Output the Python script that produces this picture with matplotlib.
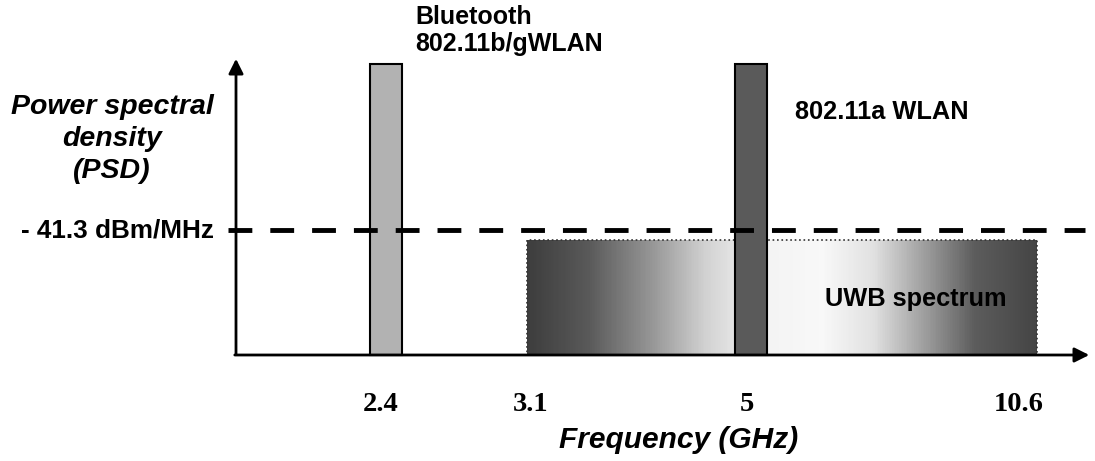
import numpy as np
import matplotlib
matplotlib.use('Agg')
import matplotlib.pyplot as plt
from matplotlib.patches import Rectangle

W, H = 1095, 461

# --- data (schematic PSD levels, 1.0 = narrowband peak) ---
tick_freqs = [2.4, 3.1, 5.0, 10.6]
tick_labels = ['2.4', '3.1', '5', '10.6']
narrow_names = ['Bluetooth\n802.11b/gWLAN', '802.11a WLAN']
narrow_freqs = [2.4, 5.0]
narrow_psd = [1.0, 1.0]
narrow_colors = ['#b2b2b2', '#5a5a5a']
uwb_band = [3.1, 10.6]
uwb_psd = 0.395
limit_psd = 0.43
limit_label = '- 41.3 dBm/MHz'

# the frequency axis of the sketch is not linear: piecewise scale GHz -> pixel
knot_f = [0.0, 2.4, 3.1, 5.0, 10.6, 16.0]
knot_p = [-96, 386, 527, 751, 1037, 1307]


def fwd(f):
    return np.interp(f, knot_f, knot_p)


def inv(p):
    return np.interp(p, knot_p, knot_f)


fig = plt.figure(figsize=(W / 100, H / 100), dpi=100)
ax = fig.add_axes([0, 0, 1, 1])
ax.set_xscale('function', functions=(fwd, inv))
ax.set_xlim(inv(0), inv(W))
px_per_unit = 291.0
ax.set_ylim(-(H - 355) / px_per_unit, 355 / px_per_unit)
ax.axis('off')

sans = 'Liberation Sans'

# UWB band with grey gradient
xe = inv(np.linspace(fwd(uwb_band[0]), fwd(uwb_band[1]), 300))
t = np.linspace(0, 1, len(xe) - 1)
ramp_t = [0, 0.12, 0.25, 0.35, 0.45, 0.58, 0.68, 0.78, 0.88, 1.0]
ramp_v = [0.24, 0.35, 0.6, 0.82, 0.95, 0.97, 0.88, 0.62, 0.36, 0.27]
shade = np.interp(t, ramp_t, ramp_v)[None, :]
ax.pcolormesh(xe, [0, uwb_psd], shade, cmap='gray', vmin=0, vmax=1, zorder=1)
ax.add_patch(Rectangle((uwb_band[0], 0), uwb_band[1] - uwb_band[0], uwb_psd,
                       fill=False, ec='#333333', lw=1.2, ls=':', zorder=1.5))

# narrowband systems
for f, h, c in zip(narrow_freqs, narrow_psd, narrow_colors):
    left = inv(fwd(f) - 16)
    right = inv(fwd(f) + 16)
    ax.bar(left, h, width=right - left, align='edge', color=c,
           edgecolor='black', lw=1.5, zorder=2)

# FCC limit
ax.axhline(limit_psd, xmin=228 / W, xmax=1085 / W, color='black', lw=3.5,
           ls=(0, (4.9, 3.7)), zorder=3)

# axes arrows
ax.annotate('', xy=(236 / W, 1 - 56 / H), xytext=(236 / W, 1 - 357 / H),
            xycoords='axes fraction',
            arrowprops=dict(arrowstyle='-|>', color='black', lw=2,
                            mutation_scale=22), zorder=4)
ax.annotate('', xy=(1092 / W, 1 - 355 / H), xytext=(232 / W, 1 - 355 / H),
            xycoords='axes fraction',
            arrowprops=dict(arrowstyle='-|>', color='black', lw=2,
                            mutation_scale=22), zorder=4)

# tick labels (hand-drawn figure: labels sit a little off the marks)
label_shift = [-5, 4, -4, -18]
for f, lab, dx in zip(tick_freqs, tick_labels, label_shift):
    ax.annotate(lab, xy=(f, -49 / px_per_unit), xytext=(dx * 0.72, 0),
                textcoords='offset points', ha='center', va='center',
                family='Liberation Serif', fontweight='bold', fontsize=20.5)

# annotations
ax.text(415 / W, 1 - 5 / H, narrow_names[0], transform=ax.transAxes,
        ha='left', va='top', family=sans, fontweight='bold', fontsize=18,
        linespacing=1.15)
ax.text(795 / W, 1 - 112 / H, narrow_names[1], transform=ax.transAxes,
        ha='left', va='center', family=sans, fontweight='bold', fontsize=18.3)
ax.text(916 / W, 1 - 299 / H, 'UWB spectrum', transform=ax.transAxes,
        ha='center', va='center', family=sans, fontweight='bold', fontsize=18.3)
ax.text(112 / W, 1 - 139 / H, 'Power spectral\ndensity\n(PSD)',
        transform=ax.transAxes, ha='center', va='center', family=sans,
        fontweight='bold', fontstyle='italic', fontsize=20.5, linespacing=1.28)
ax.text(214 / W, 1 - 230 / H, limit_label, transform=ax.transAxes,
        ha='right', va='center', family=sans, fontweight='bold', fontsize=18.8)
ax.text(679 / W, 1 - 440 / H, 'Frequency (GHz)', transform=ax.transAxes,
        ha='center', va='center', family=sans, fontweight='bold',
        fontstyle='italic', fontsize=21.5)

fig.savefig('out.png', dpi=100)
